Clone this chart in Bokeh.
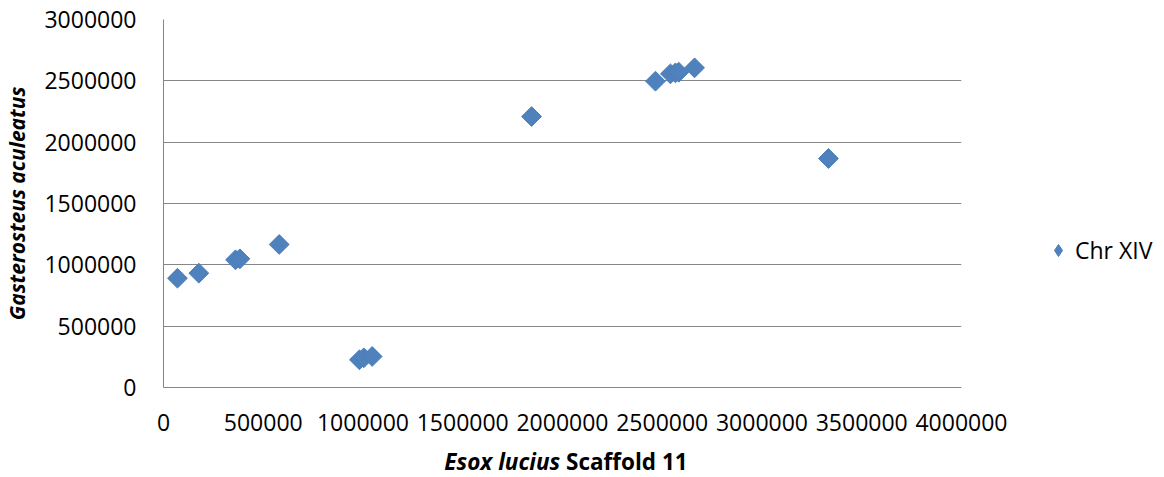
import math
from bokeh.plotting import figure
from bokeh.layouts import column, row
from bokeh.models import Range1d, FixedTicker, Legend, LegendItem, ColumnDataSource, Div
from bokeh.embed import file_html
from bokeh.resources import INLINE

# Data
esox_pos = [70000, 177000, 361000, 383000, 580000, 982000, 1004000, 1046000,
            1845000, 2466000, 2541000, 2566000, 2583000, 2662000, 3333000]
gasterosteus_pos = [891000, 932000, 1041000, 1049000, 1166000, 226000, 242000, 253000,
                    2209000, 2497000, 2557000, 2565000, 2570000, 2606000, 1867000]
series_name = "Chr XIV"
x_ticks = [0, 500000, 1000000, 1500000, 2000000, 2500000, 3000000, 3500000, 4000000]
y_ticks = [0, 500000, 1000000, 1500000, 2000000, 2500000, 3000000]
y_title = "Gasterosteus aculeatus"
x_title_italic = "Esox lucius"
x_title_plain = "Scaffold 11"

BLUE_FILL = "#4F81BD"
BLUE_LINE = "#4A7EBB"
grey = "#868686"

H = 443
W_MAIN = 1012
W_LEG = 144

p = figure(width=W_MAIN, height=H, output_backend="svg", toolbar_location=None,
           x_range=Range1d(0, 4000000), y_range=Range1d(0, 3000000),
           min_border_left=163, min_border_right=51, min_border_top=19, min_border_bottom=56)
p.outline_line_color = None

src = ColumnDataSource(dict(x=esox_pos, y=gasterosteus_pos))
p.scatter("x", "y", source=src, marker="square", size=14, angle=math.pi / 4,
          fill_color=BLUE_FILL, line_color=BLUE_LINE, line_width=1)

p.xgrid.grid_line_color = None
p.ygrid.grid_line_color = grey
p.ygrid.grid_line_width = 1

for ax in (p.xaxis[0], p.yaxis[0]):
    ax.axis_line_color = grey
    ax.axis_line_width = 1
    ax.major_tick_line_color = None
    ax.minor_tick_line_color = None
    ax.major_tick_out = 0
    ax.major_tick_in = 0
    ax.major_label_text_color = "black"
    ax.major_label_text_font = "Open Sans"
    ax.major_label_text_font_size = "23px"

p.xaxis[0].ticker = FixedTicker(ticks=x_ticks)
p.yaxis[0].ticker = FixedTicker(ticks=y_ticks)
p.xaxis[0].major_label_overrides = {t: str(t) for t in x_ticks}
p.yaxis[0].major_label_overrides = {t: str(t) for t in y_ticks}
p.yaxis[0].major_label_standoff = 27
p.xaxis[0].major_label_standoff = 26

p.yaxis[0].axis_label = y_title
p.yaxis[0].axis_label_text_font = "Open Sans"
p.yaxis[0].axis_label_text_font_style = "bold italic"
p.yaxis[0].axis_label_text_font_size = "21px"
p.yaxis[0].axis_label_text_color = "black"
p.yaxis[0].axis_label_standoff = 10

# Legend panel (separate small figure to the right, no axes; its series lies outside its view)
lf = figure(width=W_LEG, height=H, output_backend="svg", toolbar_location=None,
            x_range=Range1d(0, 1), y_range=Range1d(0, 1),
            x_axis_location=None, y_axis_location=None,
            min_border_left=0, min_border_right=0, min_border_top=0, min_border_bottom=0)
lf.outline_line_color = None
lf.grid.visible = False
leg_r = lf.scatter("x", "y", source=src, marker="diamond", size=14,
                   fill_color=BLUE_FILL, line_color=BLUE_LINE, line_width=1)
legend = Legend(items=[LegendItem(label=series_name, renderers=[leg_r])],
                location=(31, 121), padding=0, margin=0, spacing=0,
                border_line_color=None, background_fill_color=None,
                glyph_width=30, glyph_height=30, label_standoff=2,
                label_text_font="Open Sans", label_text_font_size="23px", label_text_color="black")
lf.add_layout(legend, "center")

title_div = Div(
    text=(f'<div style="width:1122px; text-align:center; font-family:\'Open Sans\'; '
          f'font-size:22.5px; font-weight:bold; line-height:28px; color:black; white-space:nowrap;">'
          f'<i>{x_title_italic}</i> {x_title_plain}</div>'),
    width=W_MAIN + W_LEG, height=30)

layout = column(row(p, lf), title_div)
open("out.html", "w").write(file_html(layout, INLINE))
